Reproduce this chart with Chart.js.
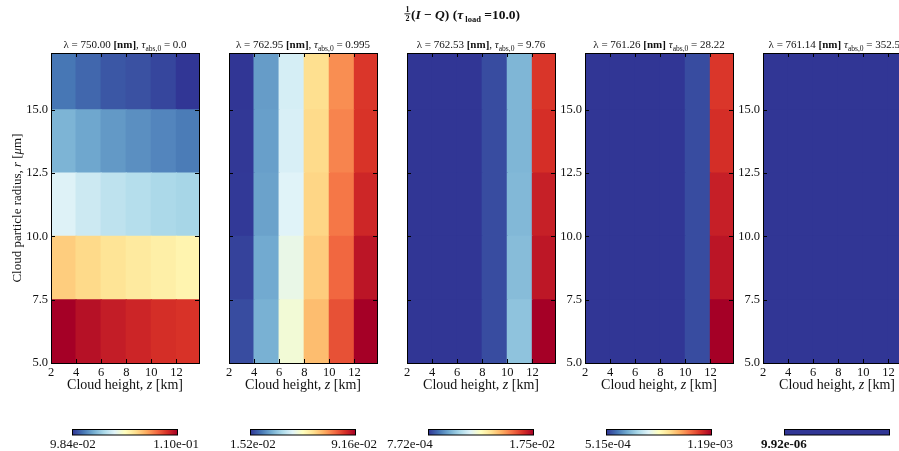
<!DOCTYPE html>
<html>
<head>
<meta charset="utf-8">
<script src="https://cdn.jsdelivr.net/npm/chart.js@4.4.1/dist/chart.umd.min.js"></script>
<style>
  html, body { margin: 0; padding: 0; background: #fff; width: 899px; height: 451px; overflow: hidden; }
  #wrap { position: relative; width: 899px; height: 451px; overflow: hidden; }
  #wrap canvas { position: absolute; left: 0; top: 0; }
</style>
</head>
<body>
<div id="wrap"></div>
<script>
// ---- data ---------------------------------------------------------------
const cloudHeights = [2, 4, 6, 8, 10, 12];          // z [km], lower cell edges
const particleRadii = [5, 7.5, 10, 12.5, 15];       // r [um], lower cell edges
const xTickValues = [2, 4, 6, 8, 10, 12];
const yTickValues = [5, 7.5, 10, 12.5, 15];

const wavelengths = ['750.00', '762.95', '762.53', '761.26', '761.14'];
const tauAbs = ['0.0', '0.995', '9.76', '28.22', '352.53'];
const tauLoad = '10.0';

// 1/2 (I - Q), rows follow particleRadii, columns follow cloudHeights
const panel1Values = [
  [0.1100, 0.1096, 0.1093, 0.1091, 0.1089, 0.1088],
  [0.1058, 0.1055, 0.1052, 0.1050, 0.1048, 0.1046],
  [0.1030, 0.1026, 0.1023, 0.1021, 0.1019, 0.1018],
  [0.1009, 0.1006, 0.1003, 0.1001, 0.0999, 0.0997],
  [0.0996, 0.0993, 0.0990, 0.0989, 0.0987, 0.0984]
];
const panel2Values = [
  [0.0179, 0.0312, 0.0503, 0.0664, 0.0798, 0.0916],
  [0.0167, 0.0301, 0.0481, 0.0641, 0.0771, 0.0882],
  [0.0156, 0.0290, 0.0458, 0.0626, 0.0752, 0.0855],
  [0.0154, 0.0286, 0.0446, 0.0618, 0.0736, 0.0836],
  [0.0152, 0.0282, 0.0442, 0.0610, 0.0725, 0.0832]
];
const panel3Values = [
  [0.000772, 0.000772, 0.000772, 0.00136, 0.00495, 0.0175],
  [0.000772, 0.000772, 0.000772, 0.00136, 0.00470, 0.0167],
  [0.000772, 0.000772, 0.000772, 0.00136, 0.00454, 0.0164],
  [0.000772, 0.000772, 0.000772, 0.00136, 0.00445, 0.0159],
  [0.000772, 0.000772, 0.000772, 0.00136, 0.00445, 0.0157]
];
const panel4Values = [
  [0.000515, 0.000515, 0.000515, 0.000515, 0.000539, 0.00119],
  [0.000515, 0.000515, 0.000515, 0.000515, 0.000539, 0.001160],
  [0.000515, 0.000515, 0.000515, 0.000515, 0.000539, 0.001146],
  [0.000515, 0.000515, 0.000515, 0.000515, 0.000539, 0.001126],
  [0.000515, 0.000515, 0.000515, 0.000515, 0.000539, 0.001116]
];
const panel5Values = [
  [9.92e-06, 9.92e-06, 9.92e-06, 9.92e-06, 9.92e-06, 9.92e-06],
  [9.92e-06, 9.92e-06, 9.92e-06, 9.92e-06, 9.92e-06, 9.92e-06],
  [9.92e-06, 9.92e-06, 9.92e-06, 9.92e-06, 9.92e-06, 9.92e-06],
  [9.92e-06, 9.92e-06, 9.92e-06, 9.92e-06, 9.92e-06, 9.92e-06],
  [9.92e-06, 9.92e-06, 9.92e-06, 9.92e-06, 9.92e-06, 9.92e-06]
];
const panelValues = [panel1Values, panel2Values, panel3Values, panel4Values, panel5Values];

// ---- layout & style ------------------------------------------------------
const CANVAS_W = 920, CANVAS_H = 451;
const PANEL_W = 148;
const panelLeft = [51, 229, 407, 585, 763];
const PLOT_TOP = 53, PLOT_BOTTOM = 363;
const Y_AXIS_W = 40, X_AXIS_H = 29;
const X_MAX = 13.8, Y_MAX = 17.25;
const showYTickLabels = [true, false, false, true, true];
const cbLabelShift = [-1, 1, -20, 0, -2];
const SERIF = '"Liberation Serif", "DejaVu Serif", "Times New Roman", serif';
const INK = '#111';

const RdYlBu_r = ['#313695', '#4575b4', '#74add1', '#abd9e9', '#e0f3f8', '#ffffbf',
                  '#fee090', '#fdae61', '#f46d43', '#d73027', '#a50026'];
const cmapRGB = RdYlBu_r.map(h => [1, 3, 5].map(i => parseInt(h.substr(i, 2), 16)));

function cmap(t) {
  t = Math.max(0, Math.min(1, t));
  const pos = t * (cmapRGB.length - 1);
  const i = Math.min(Math.floor(pos), cmapRGB.length - 2);
  const f = pos - i;
  const a = cmapRGB[i], b = cmapRGB[i + 1];
  const c = a.map((v, k) => Math.round(v + (b[k] - v) * f));
  return `rgb(${c[0]},${c[1]},${c[2]})`;
}

function fmtExp(v) {
  return v.toExponential(2).replace(/e([+-])(\d)$/, 'e$10$2');
}

function font(size, bold, italic) {
  return `${italic ? 'italic ' : ''}${bold ? 'bold ' : ''}${size}px ${SERIF}`;
}

// draws a run of differently styled text pieces, centred on cx
function drawRich(ctx, segs, cx, baseline) {
  let total = 0;
  segs.forEach(s => { ctx.font = font(s.size, s.bold, s.italic); s.w = ctx.measureText(s.text).width; total += s.w; });
  let x = cx - total / 2;
  ctx.textAlign = 'left';
  ctx.textBaseline = 'alphabetic';
  segs.forEach(s => {
    ctx.font = font(s.size, s.bold, s.italic);
    ctx.fillText(s.text, x, baseline + (s.dy || 0));
    x += s.w;
  });
}

const decorations = {
  id: 'panelDecorations',
  afterDraw(chart, args, opts) {
    const p = opts.panel;
    const {ctx, chartArea: a} = chart;
    const xs = chart.scales.x, ys = chart.scales.y;
    ctx.save();
    ctx.fillStyle = INK;
    ctx.strokeStyle = '#000';

    // frame
    ctx.lineWidth = 1;
    ctx.strokeRect(Math.round(a.left) + 0.5, Math.round(a.top) + 0.5,
                   Math.round(a.right - a.left), Math.round(a.bottom - a.top));

    // inward tick marks on all four sides
    ctx.beginPath();
    xTickValues.forEach(v => {
      const px = Math.round(xs.getPixelForValue(v)) + 0.5;
      ctx.moveTo(px, a.bottom); ctx.lineTo(px, a.bottom - 4);
      ctx.moveTo(px, a.top); ctx.lineTo(px, a.top + 4);
    });
    yTickValues.forEach(v => {
      const py = Math.round(ys.getPixelForValue(v)) + 0.5;
      ctx.moveTo(a.left, py); ctx.lineTo(a.left + 4, py);
      ctx.moveTo(a.right, py); ctx.lineTo(a.right - 4, py);
    });
    ctx.stroke();

    const cx = (a.left + a.right) / 2;

    // panel heading
    drawRich(ctx, [
      {text: 'λ = ' + wavelengths[p] + ' ', size: 11},
      {text: '[nm]', size: 11, bold: true},
      {text: p < 3 ? ', ' : ' ', size: 11},
      {text: 'τ', size: 11, italic: true},
      {text: 'abs,0', size: 7.5, dy: 2.5},
      {text: ' = ' + tauAbs[p], size: 11}
    ], cx, 48);

    // x axis title
    drawRich(ctx, [
      {text: 'Cloud height, ', size: 14},
      {text: 'z', size: 14, italic: true},
      {text: ' [km]', size: 14}
    ], cx, 389);

    // colour bar
    const vals = panelValues[p].flat();
    const vmin = Math.min(...vals), vmax = Math.max(...vals);
    const cbW = 105, cbX = cx - cbW / 2, cbY = 429.5, cbH = 5.5;
    if (vmax > vmin) {
      const g = ctx.createLinearGradient(cbX, 0, cbX + cbW, 0);
      for (let i = 0; i <= 40; i++) g.addColorStop(i / 40, cmap(i / 40));
      ctx.fillStyle = g;
    } else {
      ctx.fillStyle = cmap(0);
    }
    ctx.fillRect(cbX, cbY, cbW, cbH);
    ctx.strokeRect(cbX, cbY, cbW, cbH);

    ctx.fillStyle = INK;
    ctx.textBaseline = 'middle';
    if (vmax > vmin) {
      ctx.font = font(13);
      ctx.textAlign = 'left';
      ctx.fillText(fmtExp(vmin), a.left + cbLabelShift[p], 444.5);
      ctx.textAlign = 'right';
      ctx.fillText(fmtExp(vmax), a.right, 444.5);
    } else {
      ctx.font = font(13, true);
      ctx.textAlign = 'left';
      ctx.fillText(fmtExp(vmin), a.left + cbLabelShift[p], 444.5);
    }

    if (p === 0) {
      // y axis title
      ctx.save();
      ctx.translate(21, (a.top + a.bottom) / 2);
      ctx.rotate(-Math.PI / 2);
      ctx.fillStyle = INK;
      drawRich(ctx, [
        {text: 'Cloud particle radius, ', size: 13},
        {text: 'r', size: 13, italic: true},
        {text: ' [', size: 13},
        {text: 'μ', size: 13, italic: true},
        {text: 'm]', size: 13}
      ], 0, 0);
      ctx.restore();

      // figure title: 1/2 (I - Q) (tau_load = 10.0)
      const segs = [
        {text: '(', size: 13.5, bold: true},
        {text: 'I', size: 13.5, bold: true, italic: true},
        {text: ' − ', size: 13.5, bold: true},
        {text: 'Q', size: 13.5, bold: true, italic: true},
        {text: ') (', size: 13.5, bold: true},
        {text: 'τ', size: 13.5, bold: true, italic: true},
        {text: ' load', size: 8.5, bold: true, dy: 3},
        {text: ' =' + tauLoad + ')', size: 13.5, bold: true}
      ];
      let total = 0;
      segs.forEach(s => { ctx.font = font(s.size, s.bold, s.italic); total += ctx.measureText(s.text).width; });
      const fracW = 7;
      const start = 462 - (total + fracW) / 2;
      // stacked fraction
      ctx.font = font(8, true);
      ctx.textAlign = 'center';
      ctx.textBaseline = 'alphabetic';
      ctx.fillText('1', start + 3.5, 12);
      ctx.fillText('2', start + 3.5, 20.5);
      ctx.fillRect(start + 0.5, 13.4, 6, 0.9);
      drawRich(ctx, segs, start + fracW + total / 2, 18.5);
    }
    ctx.restore();
  }
};

const wrap = document.getElementById('wrap');
const dz = cloudHeights[1] - cloudHeights[0];
const dr = particleRadii[1] - particleRadii[0];

panelValues.forEach((values, p) => {
  const canvas = document.createElement('canvas');
  canvas.width = CANVAS_W;
  canvas.height = CANVAS_H;
  canvas.style.width = CANVAS_W + 'px';
  canvas.style.height = CANVAS_H + 'px';
  wrap.appendChild(canvas);

  const flat = values.flat();
  const vmin = Math.min(...flat), vmax = Math.max(...flat);
  const norm = v => (vmax > vmin ? (v - vmin) / (vmax - vmin) : 0);

  const datasets = particleRadii.map((r, ri) => ({
    label: 'r = ' + r,
    data: cloudHeights.map(z => ({x: z + dz / 2, y: [r, r + dr]})),
    backgroundColor: cloudHeights.map((z, zi) => cmap(norm(values[ri][zi]))),
    borderWidth: 0,
    inflateAmount: 0.6,
    grouped: false,
    barPercentage: 1,
    categoryPercentage: 1
  }));

  const L = panelLeft[p];
  new Chart(canvas, {
    type: 'bar',
    data: {datasets},
    options: {
      responsive: false,
      animation: false,
      events: [],
      devicePixelRatio: 1,
      layout: {
        padding: {
          left: L - Y_AXIS_W,
          right: CANVAS_W - (L + PANEL_W),
          top: PLOT_TOP,
          bottom: CANVAS_H - PLOT_BOTTOM - X_AXIS_H
        }
      },
      plugins: {
        legend: {display: false},
        tooltip: {enabled: false},
        panelDecorations: {panel: p}
      },
      scales: {
        x: {
          type: 'linear',
          min: cloudHeights[0],
          max: X_MAX,
          offset: false,
          grid: {display: false, drawTicks: false},
          border: {display: false},
          afterBuildTicks: s => { s.ticks = xTickValues.map(v => ({value: v})); },
          afterFit: s => { s.height = X_AXIS_H; },
          ticks: {
            padding: 2, color: INK, autoSkip: false, maxRotation: 0,
            font: {family: SERIF, size: 12.5},
            callback: v => String(v)
          }
        },
        y: {
          type: 'linear',
          min: particleRadii[0],
          max: Y_MAX,
          grid: {display: false, drawTicks: false},
          border: {display: false},
          afterBuildTicks: s => { s.ticks = yTickValues.map(v => ({value: v})); },
          afterFit: s => { s.width = Y_AXIS_W; },
          ticks: {
            display: showYTickLabels[p],
            padding: 3, color: INK,
            font: {family: SERIF, size: 12.5},
            callback: v => Number(v).toFixed(1)
          }
        }
      }
    },
    plugins: [decorations]
  });
});
</script>
</body>
</html>
